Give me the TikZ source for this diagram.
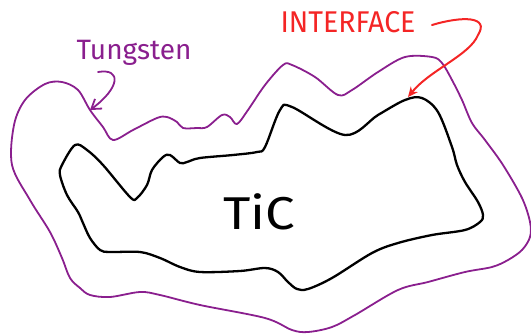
\documentclass[tikz,border=0pt]{standalone}
\usepackage{fontspec}
\setmainfont{Fira Sans}
\usetikzlibrary{arrows.meta}
\definecolor{tungcol}{HTML}{8A1F8E}
\definecolor{intcol}{HTML}{F42525}
\tikzset{
  tungline/.style={draw=tungcol, line width=1.8pt, line join=round, line cap=round},
  ticline/.style={draw=black, line width=2.3pt, line join=round, line cap=round},
  redline/.style={draw=intcol, line width=2pt, line cap=round},
  lbl/.style={inner sep=0pt, anchor=center}
}
\begin{document}
\begin{tikzpicture}[x=1pt,y=-1pt]
\useasboundingbox (0,0) rectangle (531,335);
% outer tungsten boundary
\draw[tungline] plot[smooth cycle, tension=0.55] coordinates {
 (12,165) (14,125) (25,100) (45,84) (62,82) (78,90) (90,110) (103,127) (113,140)
 (133,130) (157,118) (167,117) (177,122) (183,128) (197,128) (207,127)
 (222,115) (230,117) (237,124) (248,110) (265,85) (283,65) (292,65)
 (315,77) (338,95) (352,90) (378,72) (405,57) (432,57) (442,63)
 (452,80) (462,100) (472,123) (485,140) (503,165) (522,198) (530,222)
 (530,237) (522,250) (508,260) (492,267) (465,272) (428,282) (398,290)
 (355,315) (332,327) (308,332) (292,330) (265,318) (200,305)
 (160,295) (140,292) (110,297) (90,295) (80,288) (70,278) (62,258)
 (50,232) (30,200)};
% inner TiC boundary
\draw[ticline] plot[smooth cycle, tension=0.55] coordinates {
 (62,165) (75,145) (87,150) (103,165) (130,197) (137,198) (147,185)
 (152,170) (163,157) (170,155) (180,163) (187,162) (200,158) (233,155)
 (257,152) (265,147) (280,110) (292,107) (345,135) (378,115) (405,100)
 (422,98) (438,112) (452,147) (457,165) (465,182) (478,202) (483,215)
 (480,222) (465,230) (432,235) (398,243) (372,253) (332,278) (308,289)
 (297,289) (288,282) (278,272) (265,268) (240,271) (200,272) (180,267)
 (160,258) (140,252) (110,252) (100,250) (90,238) (83,223) (78,212)
 (67,195) (60,175)};
% labels
\node[lbl, text=tungcol, font=\fontsize{28}{30}\selectfont] (tung) at (134,53) {Tungsten};
\node[lbl, text=intcol, font=\fontsize{30}{32}\selectfont, xscale=0.95] (intf) at (348,22) {INTERFACE};
\node[lbl, text=black, font=\fontsize{46}{48}\selectfont, xscale=1.15] (tic) at (259,212) {TiC};
% arrows
\coordinate (tstart) at (98,72);
\coordinate (ttip) at (90,110);
\draw[tungline, -{Straight Barb[length=9pt,width=12pt]}] (tstart) .. controls (122,68) and (120,88) .. (ttip);
\coordinate (istart) at (432,25);
\coordinate (imid) at (478,35);
\coordinate (itip) at (408,97);
\draw[redline, -{Stealth[length=10pt,width=9pt]}] (istart) .. controls (462,16) and (490,16) .. (imid) .. controls (470,55) and (430,70) .. (itip);
\end{tikzpicture}
\end{document}
